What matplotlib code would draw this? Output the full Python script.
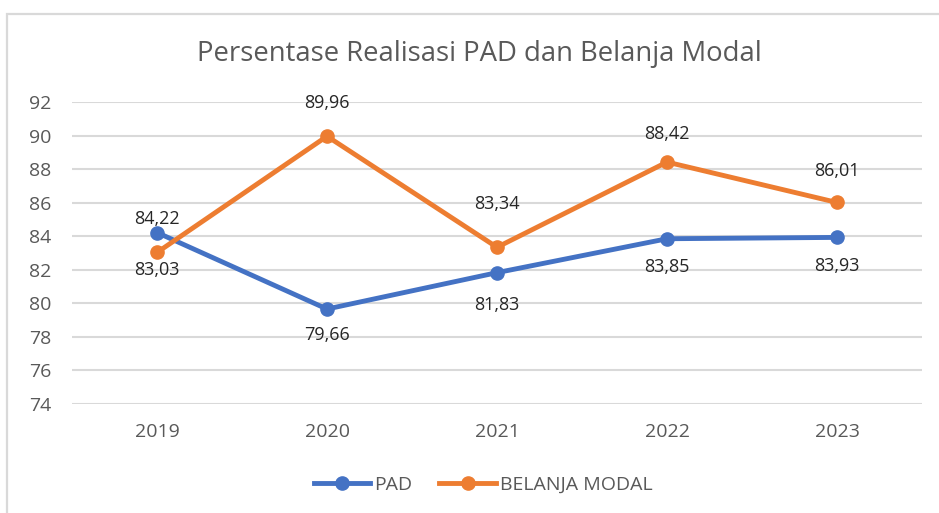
import matplotlib.pyplot as plt
from matplotlib.patches import Rectangle

years = ['2019', '2020', '2021', '2022', '2023']
pad = [84.22, 79.66, 81.83, 83.85, 83.93]
belanja = [83.03, 89.96, 83.34, 88.42, 86.01]

# label offsets from the point, in pixels (+ up, - down)
pad_off = [14, -26, -32, -28, -29]
bel_off = [-18, 33, 43, 28, 31]

plt.rcParams['font.family'] = ['Open Sans', 'DejaVu Sans']

fig = plt.figure(figsize=(9.39, 5.13), dpi=100)
ax = fig.add_axes([72 / 939, 1 - 404 / 513, 850 / 939, 302 / 513])

# chart border (cut at right/bottom like the screenshot)
fig.patches.append(Rectangle((7 / 939, -0.1), 1.2, 1 - 14 / 513 + 0.1,
                             transform=fig.transFigure, fill=False,
                             edgecolor='#d9d9d9', linewidth=1.6))

x = range(len(years))
ax.plot(x, pad, color='#4472C4', lw=3.5, marker='o', ms=9.5, label='PAD')
ax.plot(x, belanja, color='#ED7D31', lw=3.5, marker='o', ms=9.5, label='BELANJA MODAL')

for vals, offs in [(pad, pad_off), (belanja, bel_off)]:
    for xi, v, o in zip(x, vals, offs):
        ax.annotate(f'{v:.2f}'.replace('.', ','), (xi, v), xytext=(0, o * 0.72),
                    textcoords='offset points', ha='center', va='center',
                    fontsize=13, color='#262626')

ax.set_xlim(-0.5, 4.5)
ax.set_ylim(74, 92)
ax.set_yticks(range(74, 93, 2))
ax.set_xticks(list(x))
ax.set_xticklabels(years)
ax.grid(axis='y', color='#d9d9d9', lw=1.5)
ax.set_axisbelow(True)
for s in ax.spines.values():
    s.set_visible(False)
ax.tick_params(length=0, colors='#595959', labelsize=14)
ax.tick_params(axis='x', pad=14)
ax.tick_params(axis='y', pad=15)

fig.text(479 / 939, 1 - 54 / 513, 'Persentase Realisasi PAD dan Belanja Modal',
         ha='center', va='center', fontsize=19.8, color='#595959')

fig.legend(loc='center', bbox_to_anchor=(483 / 939, 1 - 485 / 513), ncol=2,
           frameon=False, fontsize=14, labelcolor='#595959',
           handlelength=2.9, columnspacing=1.4, handletextpad=0.2)

fig.savefig('out.png', dpi=100)
